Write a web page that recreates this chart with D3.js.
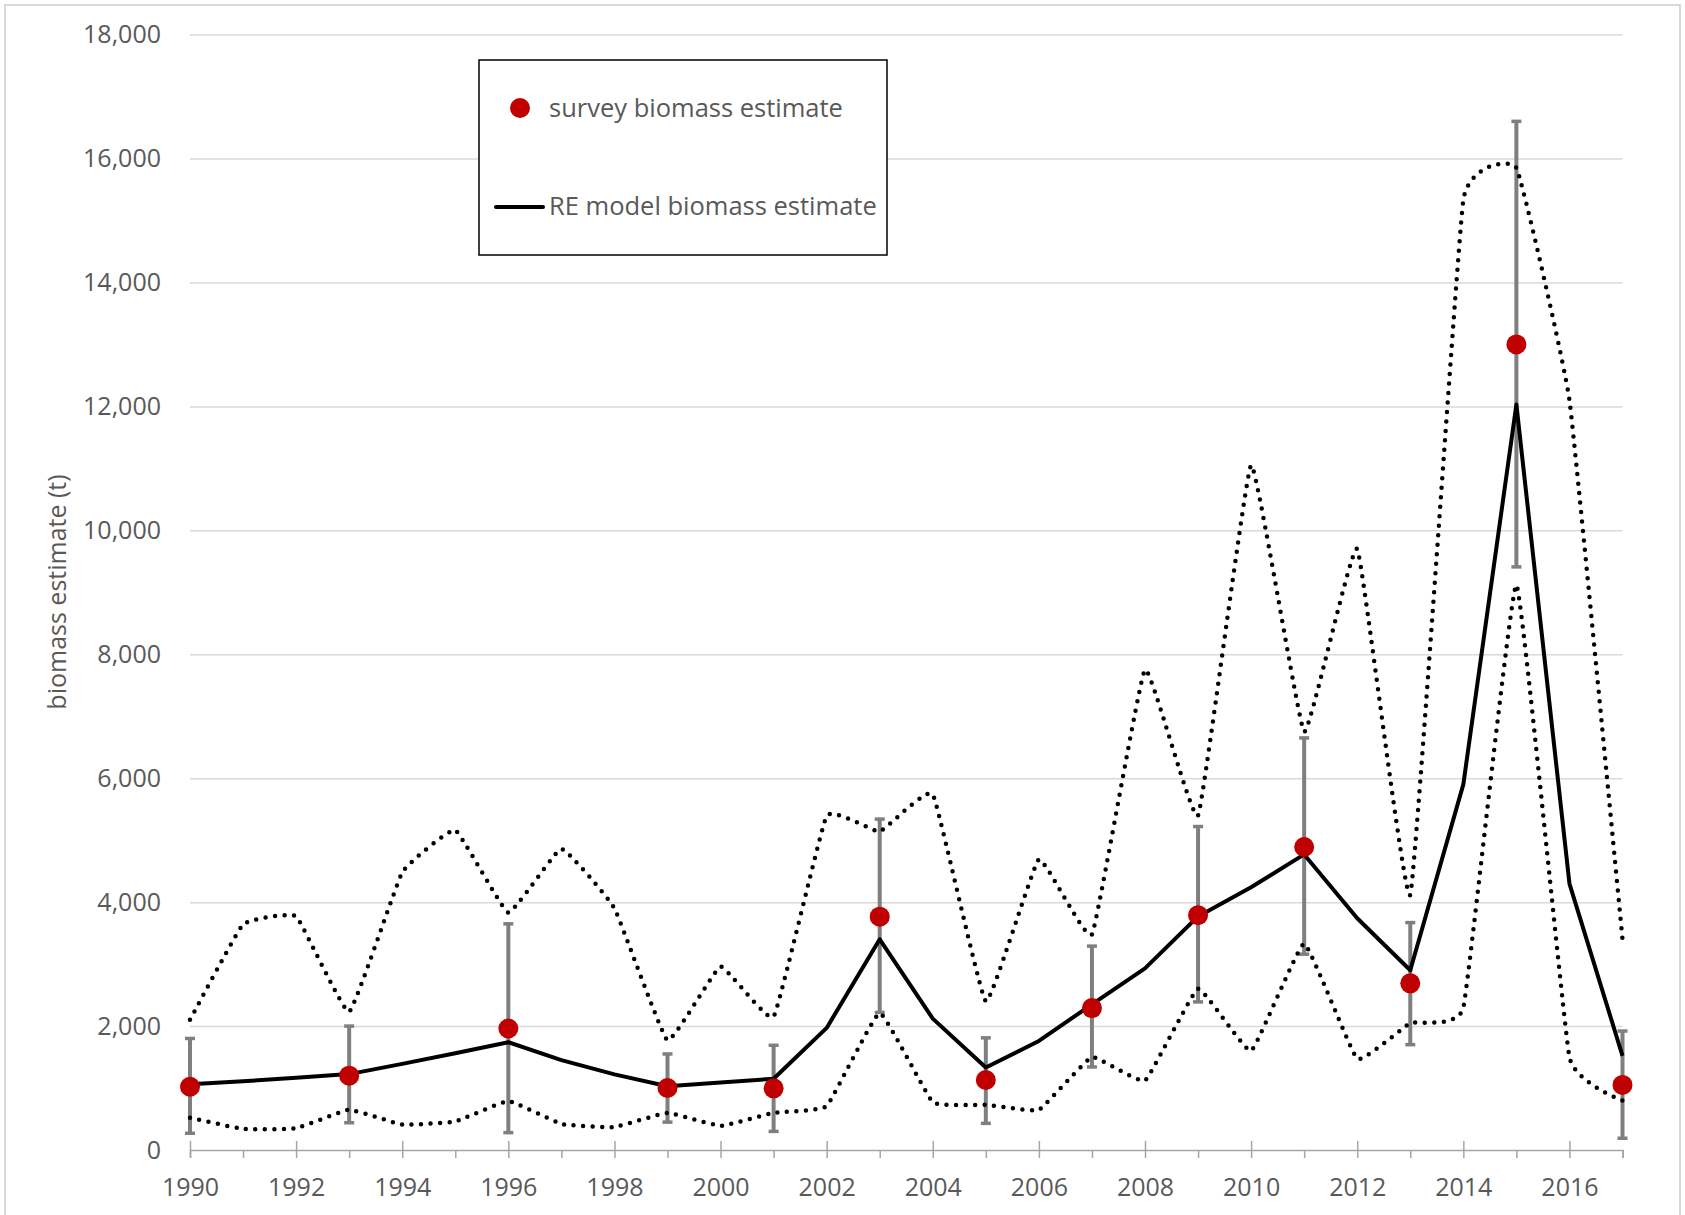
<!DOCTYPE html>
<html>
<head>
<meta charset="utf-8">
<script src="https://d3js.org/d3.v7.min.js"></script>
<style>
  body { margin: 0; background: #fff; }
  text { font-family: "Open Sans", sans-serif; }
</style>
</head>
<body>
<div id="chart"></div>
<script>
// model years and series
const years = [1990, 1991, 1992, 1993, 1994, 1995, 1996, 1997, 1998, 1999,
               2000, 2001, 2002, 2003, 2004, 2005, 2006, 2007, 2008, 2009,
               2010, 2011, 2012, 2013, 2014, 2015, 2016, 2017];
const reModel = [1060, 1110, 1165, 1225, 1390, 1560, 1740, 1450, 1220, 1030,
                 1090, 1150, 1970, 3400, 2120, 1330, 1760, 2350, 2930, 3770,
                 4240, 4770, 3740, 2900, 5900, 12030, 4300, 1520];
const upperCI = [2100, 3640, 3770, 2230, 4480, 5160, 3830, 4860, 3900, 1770,
                 2960, 2150, 5390, 5140, 5740, 2400, 4690, 3480, 7750, 5400,
                 11050, 6750, 9700, 4120, 15330, 15850, 12100, 3400];
const lowerCI = [520, 340, 350, 650, 410, 460, 790, 420, 370, 600,
                 390, 600, 710, 2210, 770, 730, 650, 1500, 1120, 2600,
                 1600, 3330, 1470, 2050, 2300, 9120, 1500, 800];

// survey years with estimates and error bar ends
const surveyYears = [1990, 1993, 1996, 1999, 2001, 2003, 2005, 2007, 2009, 2011, 2013, 2015, 2017];
const survey     = [1020, 1200, 1960, 1000, 995, 3765, 1130, 2290, 3790, 4890, 2690, 13000, 1050];
const surveyLow  = [270, 440, 280, 450, 300, 2220, 430, 1340, 2390, 3160, 1700, 9410, 190];
const surveyHigh = [1800, 2000, 3650, 1550, 1690, 5340, 1810, 3290, 5220, 6650, 3670, 16600, 1920];

const yTicks = [0, 2000, 4000, 6000, 8000, 10000, 12000, 14000, 16000, 18000];

const W = 1685, H = 1215;
const margin = {top: 34.6, right: 62.5, bottom: 65, left: 190};
const width = W - margin.left - margin.right,
      height = 1150 - margin.top;

const root = d3.select("#chart").append("svg")
    .attr("width", W)
    .attr("height", H);

// outer chart border
root.append("rect")
    .attr("x", 5).attr("y", 5)
    .attr("width", 1675).attr("height", 1220)
    .attr("fill", "none")
    .attr("stroke", "#d9d9d9")
    .attr("stroke-width", 2);

const svg = root.append("g")
    .attr("transform", `translate(${margin.left},${margin.top})`);

const x = d3.scaleLinear().domain([1990, 2017]).range([0, width]);
const y = d3.scaleLinear().domain([0, 18000]).range([height, 0]);

// gridlines
svg.append("g")
    .call(d3.axisLeft(y).tickValues(yTicks.slice(1)).tickSize(-width).tickFormat(""))
    .call(g => g.select(".domain").remove())
    .call(g => g.selectAll("line").attr("stroke", "#d9d9d9").attr("stroke-width", 1.5));

// y labels
svg.append("g")
    .call(d3.axisLeft(y).tickValues(yTicks).tickSize(0).tickPadding(29).tickFormat(d3.format(",")))
    .call(g => g.select(".domain").remove())
    .call(g => g.selectAll("text")
        .attr("fill", "#595959")
        .style("font-size", "25px")
        .style("font-family", "'Open Sans', sans-serif"));

// x axis: minor ticks every year
svg.append("g")
    .attr("transform", `translate(0,${height})`)
    .call(d3.axisBottom(x).tickValues(years.filter(d => d % 2 === 1)).tickSize(8).tickFormat(""))
    .call(g => g.select(".domain").remove())
    .call(g => g.selectAll("line").attr("stroke", "#a6a6a6").attr("stroke-width", 1.5));

svg.append("g")
    .attr("transform", `translate(0,${height})`)
    .call(d3.axisBottom(x).tickValues(years.filter(d => d % 2 === 0).concat([2017]))
        .tickSize(8).tickPadding(20).tickFormat(d => d % 2 === 0 ? d : ""))
    .call(g => g.select(".domain").attr("stroke", "#a6a6a6").attr("stroke-width", 1.5))
    .call(g => g.selectAll(".tick line")
        .attr("y1", d => d % 2 === 0 ? -9 : 0)
        .attr("stroke", "#a6a6a6").attr("stroke-width", 1.5))
    .call(g => g.selectAll("text")
        .attr("fill", "#595959")
        .style("font-size", "25px")
        .style("font-family", "'Open Sans', sans-serif"));

// y axis title
root.append("text")
    .attr("transform", "translate(56,592) rotate(-90)")
    .attr("text-anchor", "middle")
    .attr("dominant-baseline", "central")
    .attr("fill", "#595959")
    .style("font-size", "25px")
    .text("biomass estimate (t)");

const surveyData = surveyYears.map((yr, i) => ({year: yr, value: survey[i], lo: surveyLow[i], hi: surveyHigh[i]}));

// error bars
const eb = svg.append("g").attr("stroke", "#7f7f7f").attr("stroke-width", 4);
eb.selectAll(".bar")
    .data(surveyData)
    .enter().append("line")
    .attr("x1", d => x(d.year)).attr("x2", d => x(d.year))
    .attr("y1", d => y(d.lo)).attr("y2", d => y(d.hi));
eb.selectAll(".capHi")
    .data(surveyData)
    .enter().append("line")
    .attr("x1", d => x(d.year) - 5).attr("x2", d => x(d.year) + 5)
    .attr("y1", d => y(d.hi)).attr("y2", d => y(d.hi))
    .attr("stroke-width", 3.5);
eb.selectAll(".capLo")
    .data(surveyData)
    .enter().append("line")
    .attr("x1", d => x(d.year) - 5).attr("x2", d => x(d.year) + 5)
    .attr("y1", d => y(d.lo)).attr("y2", d => y(d.lo))
    .attr("stroke-width", 3.5);

// confidence interval lines (lightly smoothed, round dots)
const smooth = d3.line()
    .x((d, i) => x(years[i]))
    .y(d => y(d))
    .curve(d3.curveCardinal.tension(0.7));

[upperCI, lowerCI].forEach(series => {
  svg.append("path")
      .datum(series)
      .attr("fill", "none")
      .attr("stroke", "#000")
      .attr("stroke-width", 4.5)
      .attr("stroke-linecap", "round")
      .attr("stroke-dasharray", "0 9.5")
      .attr("d", smooth);
});

// RE model line
const straight = d3.line()
    .x((d, i) => x(years[i]))
    .y(d => y(d));

svg.append("path")
    .datum(reModel)
    .attr("fill", "none")
    .attr("stroke", "#000")
    .attr("stroke-width", 4)
    .attr("stroke-linejoin", "round")
    .attr("d", straight);

// survey dots
svg.selectAll(".dot")
    .data(surveyData)
    .enter().append("circle")
    .attr("class", "dot")
    .attr("cx", d => x(d.year))
    .attr("cy", d => y(d.value))
    .attr("r", 10)
    .attr("fill", "#c00000");

// legend
const legend = root.append("g");
legend.append("rect")
    .attr("x", 479).attr("y", 60)
    .attr("width", 408).attr("height", 195)
    .attr("fill", "#fff")
    .attr("stroke", "#000")
    .attr("stroke-width", 1.5);
legend.append("circle")
    .attr("cx", 520).attr("cy", 108)
    .attr("r", 10)
    .attr("fill", "#c00000");
legend.append("text")
    .attr("x", 549).attr("y", 117)
    .attr("fill", "#595959")
    .style("font-size", "25.5px")
    .text("survey biomass estimate");
legend.append("line")
    .attr("x1", 496).attr("x2", 543)
    .attr("y1", 207).attr("y2", 207)
    .attr("stroke", "#000")
    .attr("stroke-width", 4)
    .attr("stroke-linecap", "round");
legend.append("text")
    .attr("x", 549).attr("y", 215)
    .attr("fill", "#595959")
    .style("font-size", "25.5px")
    .text("RE model biomass estimate");
</script>
</body>
</html>
